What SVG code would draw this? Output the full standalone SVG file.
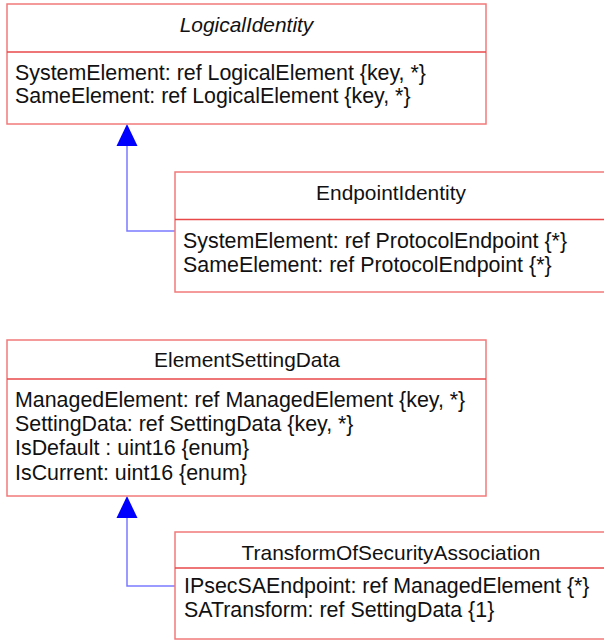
<svg xmlns="http://www.w3.org/2000/svg" width="604" height="640" viewBox="0 0 604 640">
<defs>
<style>
.box{fill:#ffffff;stroke:#f27a7a;stroke-width:1.5}
.div{stroke:#e84848;stroke-width:1.5}
.t{font-family:"Liberation Sans",Arial,sans-serif;font-size:21.4px;fill:#111111}
.c{text-anchor:middle;font-size:20.9px}
.i{font-style:italic}
.conn{fill:none;stroke:#7b7bff;stroke-width:1.5}
.head{fill:#0000ff;stroke:none}
</style>
</defs>
<rect width="604" height="640" fill="#ffffff"/>
<g id="connectors">
<polyline class="conn" points="175,231 127,231 127,145"/>
<polygon class="head" points="127,124 116.5,146 137.5,146"/>
<polyline class="conn" points="175,586 127,586 127,517"/>
<polygon class="head" points="127,496 116.5,518 137.5,518"/>
</g>
<g id="LogicalIdentity">
<rect class="box" x="7" y="4" width="479" height="120"/>
<line class="div" x1="7" y1="52" x2="486" y2="52"/>
<text class="t c i" x="246.5" y="31.5">LogicalIdentity</text>
<text class="t" x="15" y="79.5">SystemElement: ref LogicalElement {key, *}</text>
<text class="t" x="15" y="102.5">SameElement: ref LogicalElement {key, *}</text>
</g>
<g id="EndpointIdentity">
<rect class="box" x="175" y="172" width="432" height="120"/>
<line class="div" x1="175" y1="219.5" x2="607" y2="219.5"/>
<text class="t c" x="391" y="199.5">EndpointIdentity</text>
<text class="t" x="183" y="248">SystemElement: ref ProtocolEndpoint {*}</text>
<text class="t" x="183" y="272">SameElement: ref ProtocolEndpoint {*}</text>
</g>
<g id="ElementSettingData">
<rect class="box" x="7" y="340" width="479" height="156"/>
<line class="div" x1="7" y1="379" x2="486" y2="379"/>
<text class="t c" x="247" y="367">ElementSettingData</text>
<text class="t" x="15" y="406.5">ManagedElement: ref ManagedElement {key, *}</text>
<text class="t" x="15" y="430.5">SettingData: ref SettingData {key, *}</text>
<text class="t" x="15" y="455">IsDefault : uint16 {enum}</text>
<text class="t" x="15" y="479.5">IsCurrent: uint16 {enum}</text>
</g>
<g id="TransformOfSecurityAssociation">
<rect class="box" x="175" y="532" width="432" height="107"/>
<line class="div" x1="175" y1="568" x2="607" y2="568"/>
<text class="t c" x="391" y="559.5">TransformOfSecurityAssociation</text>
<text class="t" x="184" y="592.5">IPsecSAEndpoint: ref ManagedElement {*}</text>
<text class="t" x="184" y="616.5">SATransform: ref SettingData {1}</text>
</g>
</svg>
